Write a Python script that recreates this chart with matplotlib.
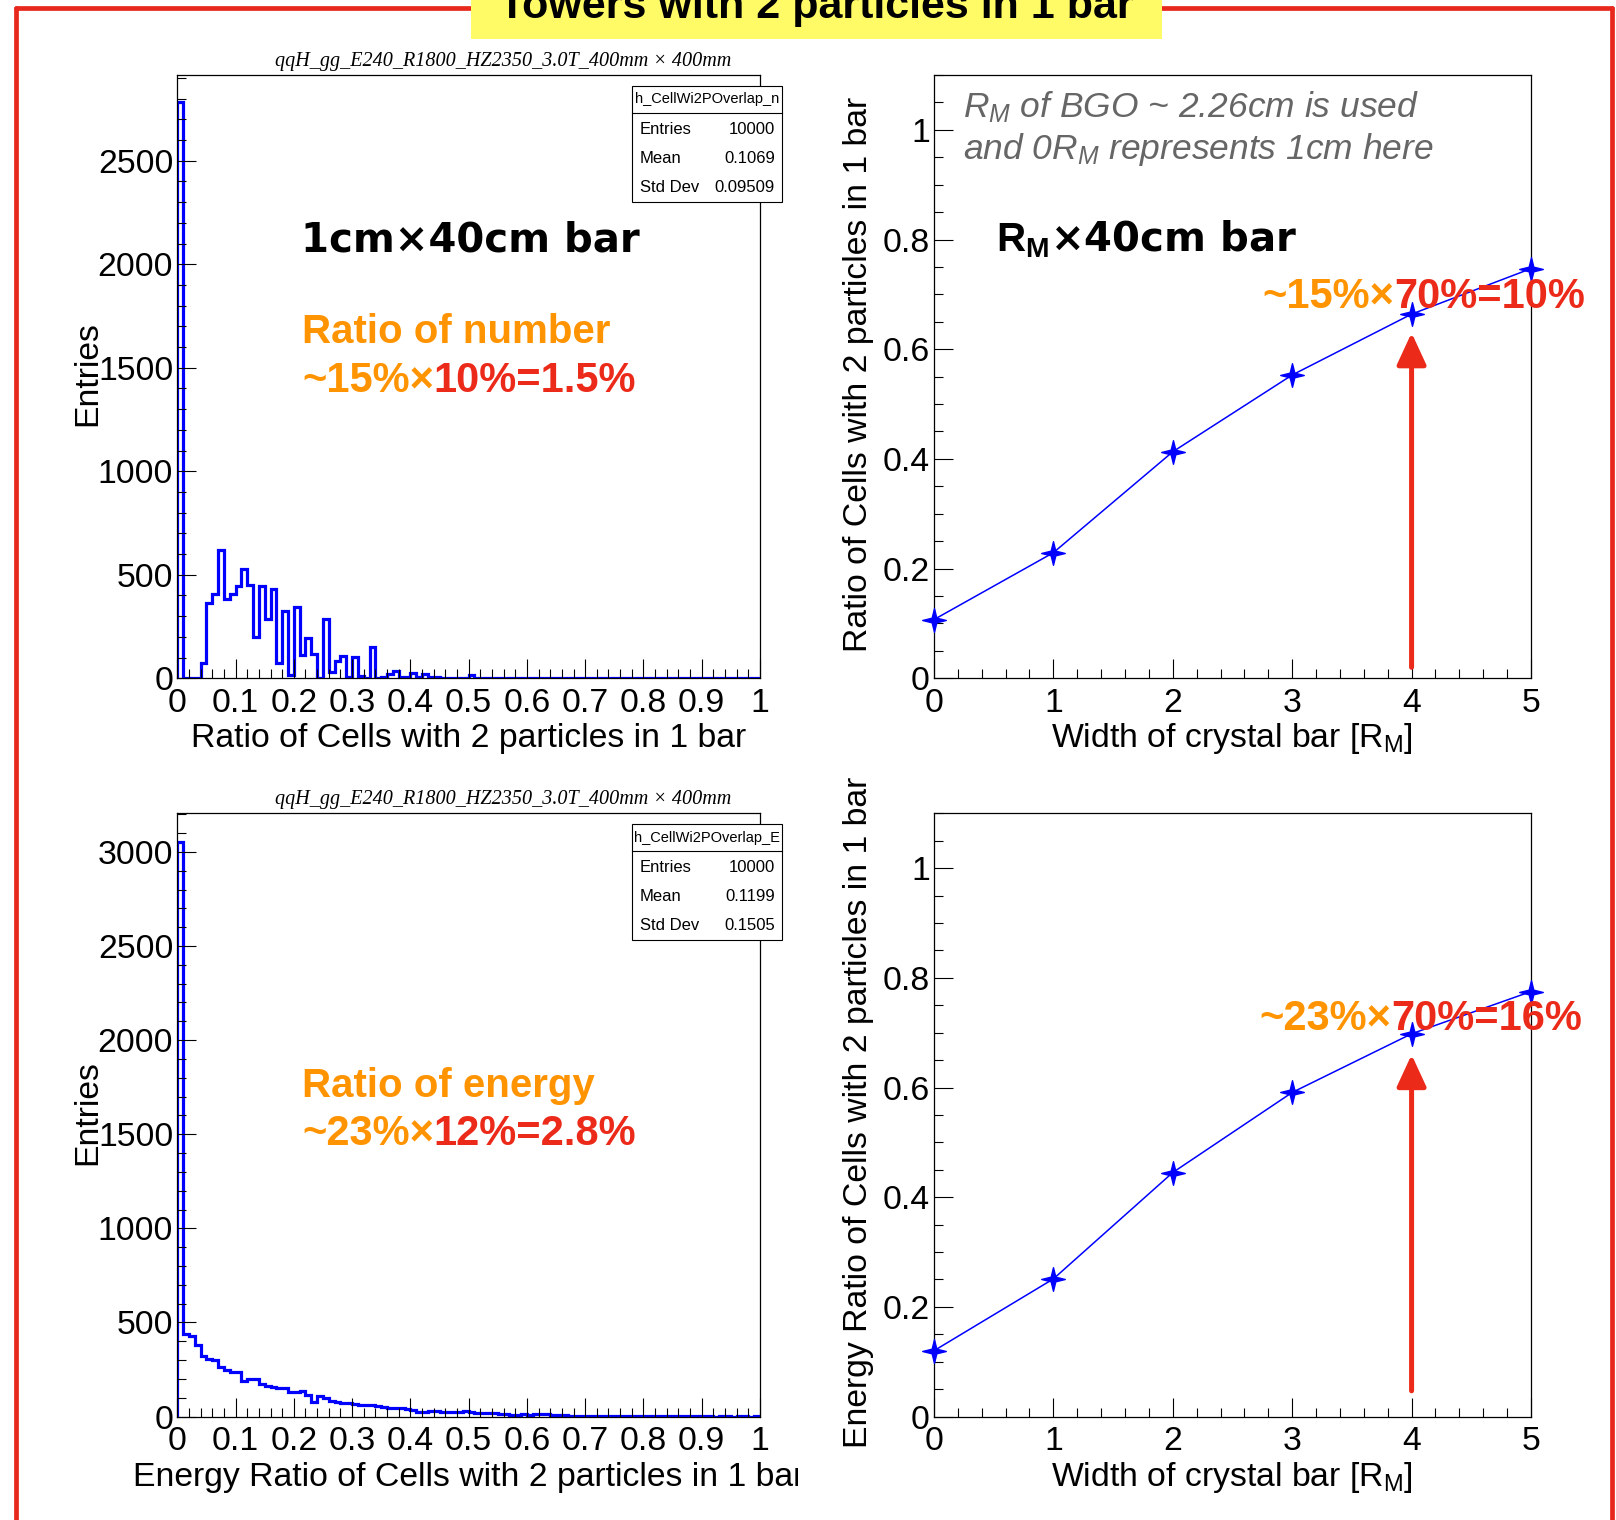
import numpy as np
import matplotlib
matplotlib.use("Agg")
import matplotlib.pyplot as plt
from matplotlib.patches import Rectangle
from matplotlib.lines import Line2D
from matplotlib.path import Path
from matplotlib.ticker import MultipleLocator, FuncFormatter
from matplotlib.transforms import Bbox

plt.rcParams['font.family'] = ['Liberation Sans', 'DejaVu Sans']
plt.rcParams['mathtext.fontset'] = 'custom'
plt.rcParams['mathtext.rm'] = 'Liberation Sans'
plt.rcParams['mathtext.it'] = 'Liberation Sans:italic'
plt.rcParams['mathtext.bf'] = 'Liberation Sans:bold'

# ---------------- data ----------------
hist_range = (0.0, 1.0)
n_bins = 100
counts_number = [2783, 0, 0, 0, 73, 366, 408, 618, 382, 408,
                 448, 529, 452, 198, 444, 287, 432, 73, 326, 16,
                 342, 113, 194, 118, 0, 287, 32, 85, 108, 8,
                 102, 11, 0, 153, 0, 8, 20, 33, 5, 4,
                 25, 8, 19, 8, 5, 0, 0, 0, 0, 0,
                 16, 2, 2, 1, 2, 2, 1, 2, 2, 1,
                 1, 0, 1, 0, 0, 1, 0, 0, 0, 0,
                 0, 0, 0, 0, 0, 0, 0, 0, 0, 0,
                 0, 0, 0, 0, 0, 0, 0, 0, 0, 0,
                 0, 0, 0, 0, 0, 0, 0, 0, 0, 0]
counts_energy = [3053, 438, 429, 381, 323, 307, 301, 266, 248, 239,
                 239, 191, 199, 199, 172, 163, 156, 154, 151, 133,
                 129, 137, 115, 80, 110, 101, 85, 80, 74, 71,
                 69, 64, 59, 62, 57, 50, 48, 48, 44, 43,
                 37, 27, 23, 28, 28, 25, 27, 23, 27, 30,
                 26, 21, 20, 20, 19, 15, 16, 11, 11, 12,
                 11, 13, 13, 12, 8, 7, 6, 5, 5, 4,
                 2, 3, 2, 2, 3, 3, 2, 4, 3, 2,
                 2, 1, 2, 1, 1, 2, 1, 1, 1, 1,
                 1, 1, 0, 1, 1, 0, 1, 1, 0, 1]
stats_number = ["h_CellWi2POverlap_n", "10000", "0.1069", "0.09509"]
stats_energy = ["h_CellWi2POverlap_E", "10000", "0.1199", "0.1505"]
stat_labels = ["Entries", "Mean", "Std Dev"]

width_RM = [0, 1, 2, 3, 4, 5]
ratio_number = [0.107, 0.229, 0.413, 0.553, 0.664, 0.747]
ratio_energy = [0.120, 0.251, 0.445, 0.591, 0.698, 0.775]
arrow_x = 4
arrow_number = (0.02, 0.63)
arrow_energy = (0.047, 0.660)

pad_title = "qqH_gg_E240_R1800_HZ2350_3.0T_400mm × 400mm"
slide_title = "Towers with 2 particles in 1 bar"

# ---------------- style ----------------
W, H = 1616, 1520
BLUE = '#0000ff'
RED = '#ec2a1a'
ORANGE = '#ff9300'
FRAME_RED = '#e8281c'
YELLOW = '#fffb66'

fig = plt.figure(figsize=(W / 100, H / 100), dpi=100)


def fx(x):
    return x / W


def fy(y):
    return 1 - y / H


def ftext(x, y, s, **kw):
    return fig.text(fx(x), fy(y), s, **kw)


DY = 738.3  # vertical shift between top and bottom rows (pixels)
AX_TOP, AX_BOT = 75.0, 678.3
LX0, LX1 = 177.3, 760.0
RX0, RX1 = 933.9, 1531.0
TS = 24.3  # ROOT text size


def make_axes(x0, x1, y0, y1):
    return fig.add_axes([fx(x0), fy(y1), (x1 - x0) / W, (y1 - y0) / H])


fmt = FuncFormatter(lambda v, p: '%g' % v)


def style(ax, xmaj, xmin, ymaj, ymin):
    ax.xaxis.set_major_locator(MultipleLocator(xmaj))
    ax.xaxis.set_minor_locator(MultipleLocator(xmin))
    ax.yaxis.set_major_locator(MultipleLocator(ymaj))
    ax.yaxis.set_minor_locator(MultipleLocator(ymin))
    ax.xaxis.set_major_formatter(fmt)
    ax.yaxis.set_major_formatter(fmt)
    ax.tick_params(which='both', direction='in', top=False, right=False,
                   labelsize=TS, width=0.8, color='black')
    ax.tick_params(which='major', length=13.5)
    ax.tick_params(which='minor', length=6.8)
    ax.tick_params(axis='x', pad=7)
    ax.tick_params(axis='y', pad=3)
    for sp in ax.spines.values():
        sp.set_linewidth(0.9)
        sp.set_color('black')


edges = np.linspace(hist_range[0], hist_range[1], n_bins + 1)

# star marker (4 points)
r_in = 0.28
ang = np.arange(8) * np.pi / 4 + np.pi / 2
rad = np.where(np.arange(8) % 2 == 0, 1.0, r_in)
star_verts = np.column_stack([rad * np.cos(ang), rad * np.sin(ang)])
star_verts = np.vstack([star_verts, star_verts[:1]])
star = Path(star_verts, closed=True)

panels = [
    (0.0, counts_number, 2914, stats_number, "Ratio of Cells with 2 particles in 1 bar",
     ratio_number, arrow_number, "Ratio of Cells with 2 particles in 1 bar"),
    (DY, counts_energy, 3205, stats_energy, "Energy Ratio of Cells with 2 particles in 1 bar",
     ratio_energy, arrow_energy, "Energy Ratio of Cells with 2 particles in 1 bar"),
]

for dy, counts, ymax, stats, xlab, ratios, arr, rylab in panels:
    # ---- histogram ----
    ax = make_axes(LX0, LX1, AX_TOP + dy, AX_BOT + dy)
    ax.stairs(counts, edges, color=BLUE, lw=2.3, baseline=0)
    ax.set_xlim(hist_range)
    ax.set_ylim(0, ymax)
    style(ax, 0.1, 0.02, 500, 100)

    ftext(503, 66 + dy, pad_title, family='Liberation Serif', style='italic',
          fontsize=14.5, ha='center', va='baseline')
    ftext(87.6, 374 + dy, "Entries", rotation=90, ha='center', va='center', fontsize=TS)
    t = ftext(468.5, 739 + dy, xlab, ha='center', va='center', fontsize=TS)
    t.set_clip_box(Bbox.from_extents(0, 0, 798, H))
    t.set_clip_on(True)

    # stats box
    bx0, bx1, by0 = 632, 782, 85.5 + dy
    fig.add_artist(Rectangle((fx(bx0), fy(by0 + 116.5)), (bx1 - bx0) / W, 116.5 / H,
                             transform=fig.transFigure, fc='white', ec='black', lw=0.8, zorder=5))
    fig.add_artist(Line2D([fx(bx0), fx(bx1)], [fy(by0 + 27.5)] * 2,
                          transform=fig.transFigure, color='black', lw=0.8, zorder=6))
    ftext((bx0 + bx1) / 2, by0 + 14, stats[0], ha='center', va='center', fontsize=10.5, zorder=7)
    for i, lab in enumerate(stat_labels):
        yy = by0 + 43.5 + i * 29.3
        ftext(640, yy, lab, ha='left', va='center', fontsize=12, zorder=7)
        ftext(775, yy, stats[i + 1], ha='right', va='center', fontsize=12, zorder=7)

    # ---- ratio vs width ----
    axr = make_axes(RX0, RX1, AX_TOP + dy, AX_BOT + dy)
    axr.plot(width_RM, ratios, color=BLUE, lw=1.1, marker=star, ms=17,
             mfc=BLUE, mec=BLUE, zorder=3, clip_on=False)
    axr.set_xlim(0, 5)
    axr.set_ylim(0, 1.1)
    style(axr, 1, 0.2, 0.2, 0.05)
    axr.annotate('', xy=(arrow_x, arr[1]), xytext=(arrow_x, arr[0]),
                 arrowprops=dict(arrowstyle='-|>,head_length=0.65,head_width=0.3',
                                 color=RED, lw=3.6, mutation_scale=30,
                                 shrinkA=0, shrinkB=0), zorder=2)
    ftext(858, 374 + dy, rylab, rotation=90, ha='center', va='center', fontsize=TS)
    ftext(1232, 739 + dy, r"Width of crystal bar [R$_{\mathrm{M}}$]", ha='center',
          va='center', fontsize=TS)

renderer = fig.canvas.get_renderer()


def two_color(x, y, s1, s2, size):
    t1 = ftext(x, y, s1, color=ORANGE, fontsize=size, weight='bold', va='baseline',
               ha='left', zorder=8)
    bb = t1.get_window_extent(renderer=renderer)
    fig.text(bb.x1 / fig.bbox.width, fy(y), s2, color=RED, fontsize=size, weight='bold',
             va='baseline', ha='left', zorder=8)


# left overlay texts
ftext(301, 251, "1cm×40cm bar", fontsize=29, weight='bold', family='DejaVu Sans',
      ha='left', va='baseline')
ftext(302, 343, "Ratio of number", fontsize=29, weight='bold', color=ORANGE,
      ha='left', va='baseline')
two_color(302, 392, "~15%×", "10%=1.5%", 30)
ftext(302, 1097, "Ratio of energy", fontsize=29, weight='bold', color=ORANGE,
      ha='left', va='baseline')
two_color(302, 1145, "~23%×", "12%=2.8%", 30)

# right overlay texts
ftext(996, 251, r"$\mathbf{R_M}$×40cm bar", fontsize=29, weight='bold',
      family='DejaVu Sans', ha='left', va='baseline')
ftext(962.6, 117.3, r"$R_M$ of BGO ~ 2.26cm is used", fontsize=25.5, style='italic',
      color='#666666', ha='left', va='baseline')
ftext(962.6, 159.3, r"and 0$R_M$ represents 1cm here", fontsize=25.5, style='italic',
      color='#666666', ha='left', va='baseline')
two_color(1262.5, 308, "~15%×", "70%=10%", 30)
two_color(1259, 1030.5, "~23%×", "70%=16%", 30)

# slide frame and title
for xs, ys in [([16, 16], [8, H]), ([16, 1612], [8, 8]), ([1612, 1612], [8, H])]:
    fig.add_artist(Line2D([fx(v) for v in xs], [fy(v) for v in ys], transform=fig.transFigure,
                          color=FRAME_RED, lw=3.4, solid_capstyle='round', zorder=9))
fig.add_artist(Rectangle((fx(471), fy(39)), (1162 - 471) / W, 39 / H, transform=fig.transFigure,
                         fc=YELLOW, ec='none', zorder=10))
ftext(816, 18, slide_title, ha='center', va='baseline', fontsize=31, weight='bold', zorder=11)

fig.savefig('out.png', dpi=100)
